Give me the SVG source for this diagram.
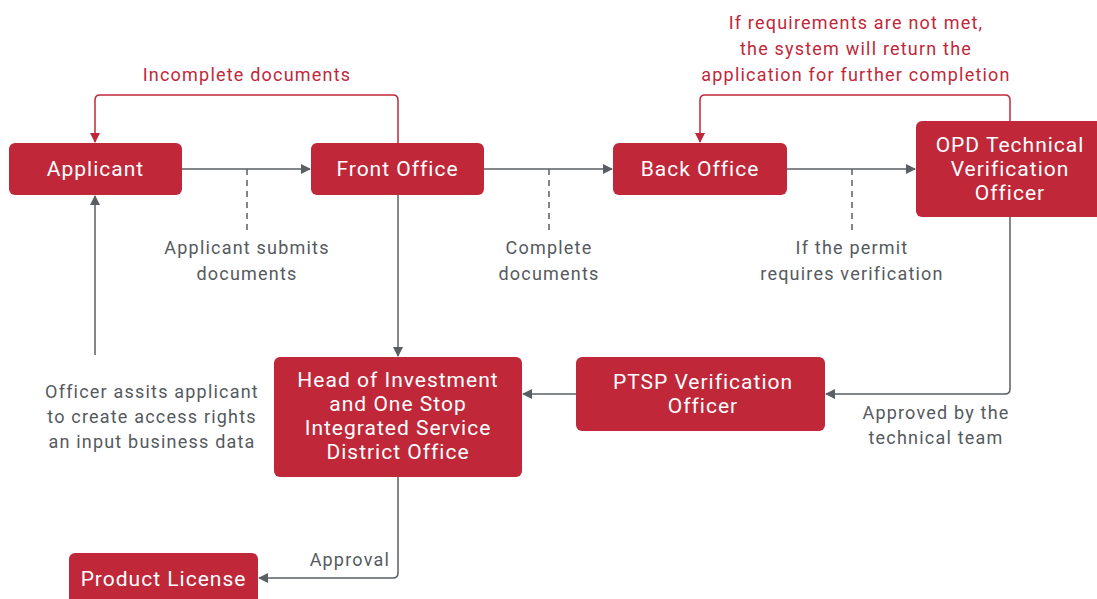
<svg xmlns="http://www.w3.org/2000/svg" width="1097" height="599" viewBox="0 0 1097 599">
<style>
.node{fill:#c0283a}
.nt{font-family:Roboto,"Liberation Sans",sans-serif;font-size:21px;letter-spacing:1px;fill:#fff;text-anchor:middle}
.lbl{font-family:Roboto,"Liberation Sans",sans-serif;font-size:18px;letter-spacing:1.2px;fill:#555a5e;text-anchor:middle}
.rl{font-family:Roboto,"Liberation Sans",sans-serif;font-size:18px;letter-spacing:1.2px;fill:#c0283a;text-anchor:middle}
.ln{fill:none;stroke:#5a5f63;stroke-width:1.5}
.dash{fill:none;stroke:#5a5f63;stroke-width:1.5;stroke-dasharray:6 5}
.red{fill:none;stroke:#c0283a;stroke-width:1.5}
</style>
<defs>
<marker id="ag" markerWidth="10" markerHeight="10" refX="9" refY="5" orient="auto" markerUnits="userSpaceOnUse"><path d="M0,0 L10,5 L0,10 Z" fill="#5a5f63"/></marker>
<marker id="ar" markerWidth="10" markerHeight="10" refX="9" refY="5" orient="auto" markerUnits="userSpaceOnUse"><path d="M0,0 L10,5 L0,10 Z" fill="#c0283a"/></marker>
</defs>
<rect width="1097" height="599" fill="#fff"/>
<g id="connectors">
<path class="ln" d="M182,169 H310" marker-end="url(#ag)"/>
<path class="dash" d="M247,169 V230"/>
<path class="ln" d="M484,169 H612" marker-end="url(#ag)"/>
<path class="dash" d="M549,169 V230"/>
<path class="ln" d="M787,169 H915" marker-end="url(#ag)"/>
<path class="dash" d="M852,169 V230"/>
<path class="red" d="M398,143 V100 Q398,95 393,95 H100 Q95,95 95,100 V142" marker-end="url(#ar)"/>
<path class="red" d="M1010,121 V100 Q1010,95 1005,95 H705 Q700,95 700,100 V142" marker-end="url(#ar)"/>
<path class="ln" d="M398,195 V356" marker-end="url(#ag)"/>
<path class="ln" d="M1010,217 V389 Q1010,394 1005,394 H826" marker-end="url(#ag)"/>
<path class="ln" d="M576,394 H523" marker-end="url(#ag)"/>
<path class="ln" d="M398,477 V573 Q398,578 393,578 H259" marker-end="url(#ag)"/>
<path class="ln" d="M95,355 V196" marker-end="url(#ag)"/>
</g>
<g id="labels">
<text class="rl" x="247" y="81">Incomplete documents</text>
<text class="rl" x="856" y="29">If requirements are not met,</text>
<text class="rl" x="856" y="55">the system will return the</text>
<text class="rl" x="856" y="81">application for further completion</text>
<text class="lbl" x="247" y="254">Applicant submits</text>
<text class="lbl" x="247" y="280">documents</text>
<text class="lbl" x="549" y="254">Complete</text>
<text class="lbl" x="549" y="280">documents</text>
<text class="lbl" x="852" y="254">If the permit</text>
<text class="lbl" x="852" y="280">requires verification</text>
<text class="lbl" x="936" y="419">Approved by the</text>
<text class="lbl" x="936" y="444">technical team</text>
<text class="lbl" x="152" y="398">Officer assits applicant</text>
<text class="lbl" x="152" y="423">to create access rights</text>
<text class="lbl" x="152" y="448">an input business data</text>
<text class="lbl" x="390" y="566" style="text-anchor:end">Approval</text>
</g>
<g id="applicant"><rect class="node" x="9" y="143" width="173" height="52" rx="6"/><text class="nt" x="95.5" y="176">Applicant</text></g>
<g id="front-office"><rect class="node" x="311" y="143" width="173" height="52" rx="6"/><text class="nt" x="397.5" y="176">Front Office</text></g>
<g id="back-office"><rect class="node" x="613" y="143" width="174" height="52" rx="6"/><text class="nt" x="700" y="176">Back Office</text></g>
<g id="opd"><rect class="node" x="916" y="121" width="190" height="96" rx="6"/><text class="nt" x="1010" y="152">OPD Technical</text><text class="nt" x="1010" y="176">Verification</text><text class="nt" x="1010" y="200">Officer</text></g>
<g id="head"><rect class="node" x="274" y="357" width="248" height="120" rx="6"/><text class="nt" x="398" y="387">Head of Investment</text><text class="nt" x="398" y="411">and One Stop</text><text class="nt" x="398" y="435">Integrated Service</text><text class="nt" x="398" y="459">District Office</text></g>
<g id="ptsp"><rect class="node" x="576" y="357" width="249" height="74" rx="6"/><text class="nt" x="703" y="389">PTSP Verification</text><text class="nt" x="703" y="413">Officer</text></g>
<g id="product-license"><rect class="node" x="69" y="553" width="189" height="60" rx="6"/><text class="nt" x="163.5" y="586">Product License</text></g>
</svg>
